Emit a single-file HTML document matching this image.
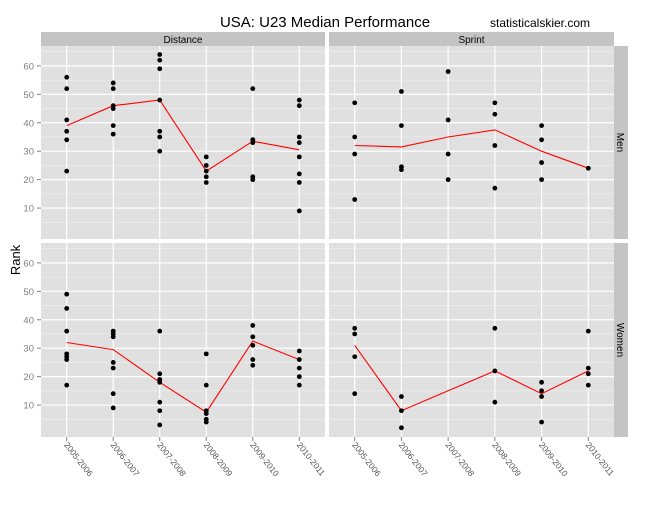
<!DOCTYPE html>
<html><head><meta charset="utf-8"><style>
body{margin:0;background:#fff;font-family:"Liberation Sans",sans-serif}
</style></head><body>
<svg id="chart" width="650" height="500" xmlns="http://www.w3.org/2000/svg" font-family="Liberation Sans, sans-serif">
<text x="325" y="27" text-anchor="middle" font-size="15">USA: U23 Median Performance</text>
<text x="540" y="27" text-anchor="middle" font-size="12">statisticalskier.com</text>
<text transform="translate(20,260) rotate(-90)" text-anchor="middle" font-size="13">Rank</text>
</svg>
<script>
const categories=["2005-2006","2006-2007","2007-2008","2008-2009","2009-2010","2010-2011"];
const yTicks=[10,20,30,40,50,60];
const menDistPts=[[56,52,41,37,34,23],[54,52,46,45,39,36],[64,62,59,48,37,35,30],[28,25,23,21,19],[52,34,34,33,21,20],[48,46,35,33,28,22,19,9]];
const menDistMed=[39,46,48,23,33.5,30.5];
const menSprPts=[[47,35,29,13],[51,39,24.5,23.5],[58,41,29,20],[47,43,32,17],[39,34,26,20],[24]];
const menSprMed=[32,31.5,35,37.5,30,24];
const womDistPts=[[49,44,36,28,27,26,17],[36,35,34,25,23,14,9],[36,21,19,18,11,8,3],[28,17,8,7,5,4],[38,34,31,26,24],[29,26,23,20,17]];
const womDistMed=[32,29.5,18,7.5,32.5,26];
const womSprPts=[[37,35,27,14],[13,8,2],[],[37,22,11],[18,15,13,4],[36,23,21,17]];
const womSprMed=[31,8,15,22,14,22];

const svg=document.getElementById('chart');
const NS="http://www.w3.org/2000/svg";
function mk(tag,attrs,parent){const e=document.createElementNS(NS,tag);for(const k in attrs)e.setAttribute(k,attrs[k]);(parent||svg).appendChild(e);return e;}
const cols=[{x0:41,x1:325,name:"Distance"},{x0:329,x1:614,name:"Sprint"}];
const rows=[{y0:46,y1:239,name:"Men"},{y0:243,y1:437,name:"Women"}];
const pxPerUnit=2.843;
const vMax=67;
function yScale(r,v){return rows[r].y0+(vMax-v)*pxPerUnit;}
function xScale(c,i){const w=cols[c].x1-cols[c].x0;return cols[c].x0+25.7+i*(w-51.4)/5;}
const panels=[[menDistPts,menDistMed,0,0],[menSprPts,menSprMed,1,0],[womDistPts,womDistMed,0,1],[womSprPts,womSprMed,1,1]];
// strips
cols.forEach((c,ci)=>{const g=mk('g',{});
 mk('rect',{x:c.x0,y:32,width:c.x1-c.x0,height:14,fill:'#c4c4c4'},g);
 const t=mk('text',{x:(c.x0+c.x1)/2,y:43,'text-anchor':'middle','font-size':10},g);t.textContent=c.name;});
rows.forEach((r,ri)=>{const g=mk('g',{});
 mk('rect',{x:614,y:r.y0,width:14,height:r.y1-r.y0,fill:'#c4c4c4'},g);
 const cy=(r.y0+r.y1)/2;const t=mk('text',{x:0,y:0,'text-anchor':'middle','font-size':10,transform:`translate(617,${cy}) rotate(90)`},g);t.textContent=r.name;});
panels.forEach(([pts,med,c,r])=>{
 const g=mk('g',{});
 mk('rect',{x:cols[c].x0,y:rows[r].y0,width:cols[c].x1-cols[c].x0,height:rows[r].y1-rows[r].y0,fill:'#e0e0e0'},g);
 for(let v=5;v<=65;v+=10){const y=yScale(r,v);mk('line',{x1:cols[c].x0,x2:cols[c].x1,y1:y,y2:y,stroke:'#f0f0f0','stroke-width':0.6},g);}
 yTicks.forEach(v=>{const y=yScale(r,v);mk('line',{x1:cols[c].x0,x2:cols[c].x1,y1:y,y2:y,stroke:'#fff','stroke-width':1.2},g);});
 categories.forEach((cat,i)=>{const x=xScale(c,i);mk('line',{x1:x,x2:x,y1:rows[r].y0,y2:rows[r].y1,stroke:'#fff','stroke-width':1.2},g);});
 const d=med.map((v,i)=>(i?'L':'M')+xScale(c,i).toFixed(1)+','+yScale(r,v).toFixed(1)).join(' ');
 const line=mk('path',{d:d,fill:'none',stroke:'#ff0000','stroke-width':1.1},g);
 
 pts.forEach((arr,i)=>arr.forEach(v=>{const p=mk('circle',{cx:xScale(c,i),cy:yScale(r,v),r:2.4,fill:'#000'},g);
  }));
});
// y axes
rows.forEach((r,ri)=>{const g=mk('g',{});
 yTicks.forEach(v=>{const y=yScale(ri,v);mk('line',{x1:37,x2:41,y1:y,y2:y,stroke:'#7f7f7f'},g);
 const t=mk('text',{x:34,y:y+3.5,'text-anchor':'end','font-size':9.5,fill:'#7f7f7f'},g);t.textContent=v;});});
// x axes
cols.forEach((c,ci)=>{const g=mk('g',{});
 categories.forEach((cat,i)=>{const x=xScale(ci,i);mk('line',{x1:x,x2:x,y1:437,y2:441,stroke:'#7f7f7f'},g);
 const t=mk('text',{x:0,y:0,'font-size':8.5,fill:'#555',transform:`translate(${x-3},${445}) rotate(52)`},g);t.textContent=cat;});});
</script>
</body></html>
